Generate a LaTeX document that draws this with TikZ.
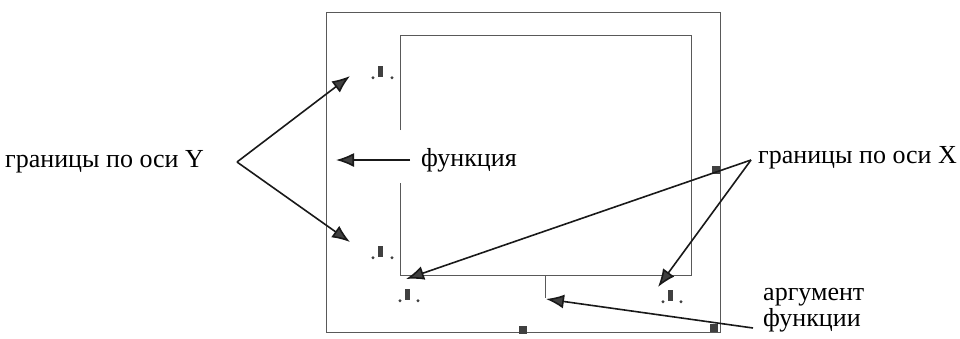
\documentclass[tikz,border=0pt]{standalone}
\usepackage{fontspec}
\setmainfont{Liberation Serif}
\usetikzlibrary{arrows.meta, positioning, calc}

\begin{document}
\begin{tikzpicture}[
    x=1pt, y=-1pt,
    >={Latex[length=18pt, width=14pt, fill=black!75]},
    frame/.style={draw=black!65, line width=0.9pt},
    arrow/.style={->, line width=1.6pt, draw=black!90},
    txt/.style={font=\fontsize{26}{26}\selectfont, inner sep=0pt, align=left},
    lim/.style={fill=black!75, minimum width=5pt, minimum height=11pt, inner sep=0pt},
    grip/.style={fill=black!75, minimum size=8pt, inner sep=0pt},
]
\useasboundingbox (0,0) rectangle (960,338);

% window frame and plot area
\draw[frame] (326,12) rectangle (720,332);
\draw[frame] (400,130) -- (400,35) -- (691,35) -- (691,275) -- (400,275) -- (400,183);
\draw[frame] (545,275) -- (545,298);

% limit fields
\node[lim] (ymaxf) at (380,71) {};
\node[lim] (yminf) at (380,251) {};
\node[lim] (xminf) at (407,294) {};
\node[lim] (xmaxf) at (670,295) {};
\fill[black!75] ($(ymaxf.south)+(-7,1)$) circle (1.6) ($(ymaxf.south)+(12,1)$) circle (1.6);
\fill[black!75] ($(yminf.south)+(-7,1)$) circle (1.6) ($(yminf.south)+(12,1)$) circle (1.6);
\fill[black!75] ($(xminf.south)+(-7,1)$) circle (1.6) ($(xminf.south)+(11,1)$) circle (1.6);
\fill[black!75] ($(xmaxf.south)+(-7,1)$) circle (1.6) ($(xmaxf.south)+(11,1)$) circle (1.6);

% grips on the frame
\node[grip] (gright) at (716,170) {};
\node[grip] (gcorner) at (714,328) {};
\node[grip] (gbottom) at (523,330) {};

% labels
\node[txt, anchor=west] (ylim) at (5,162) {границы по оси Y};
\node[txt, anchor=west] (fn) at (421,160) {функция};
\node[txt, anchor=west] (xlim) at (758,158) {границы по оси X};
\node[txt, anchor=west] (arg) at (763,310) {аргумент\\функции};

\coordinate (yfork) at (237,162);
\coordinate (ymaxtip) at (350,76);
\coordinate (ymintip) at (350,242);
\coordinate (fntip) at (336,160);
\coordinate (xfork) at (751,160);
\coordinate (xmintip) at (406,279);
\coordinate (xmaxtip) at (658,287);
\coordinate (argend) at (753,328);
\coordinate (argtip) at (546,299);

% arrows
\draw[arrow] (yfork) -- (ymaxtip);
\draw[arrow] (yfork) -- (ymintip);
\draw[arrow] ([xshift=-11pt]fn.west) -- (fntip);
\draw[arrow] (xfork) -- (xmintip);
\draw[arrow] (xfork) -- (xmaxtip);
\draw[arrow] (argend) -- (argtip);

\end{tikzpicture}
\end{document}
